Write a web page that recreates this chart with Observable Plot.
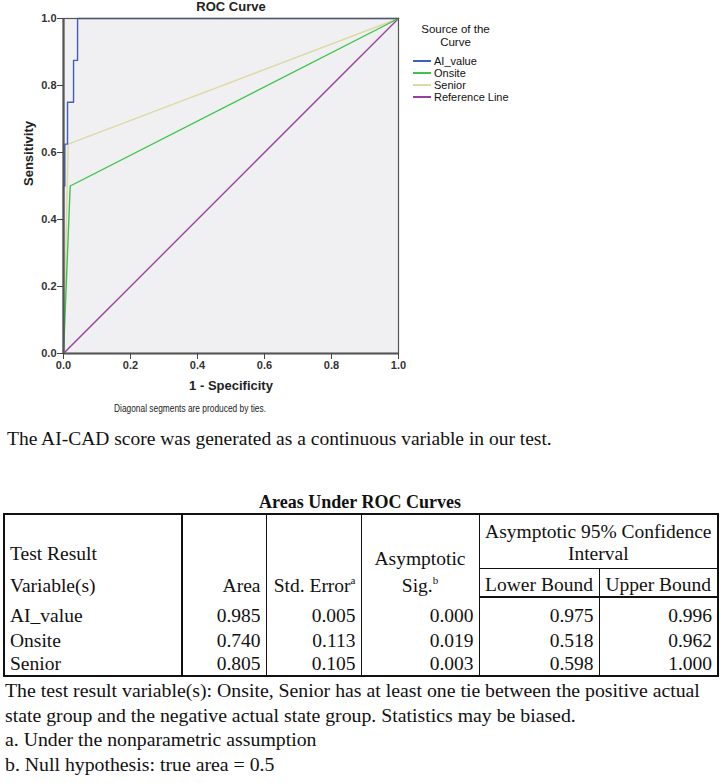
<!DOCTYPE html>
<html>
<head>
<meta charset="utf-8">
<script src="https://cdn.jsdelivr.net/npm/d3@7"></script>
<script src="https://cdn.jsdelivr.net/npm/@observablehq/plot@0.6"></script>
<style>
  body { margin:0; background:#fff; width:720px; height:783px; position:relative; overflow:hidden; }
  #chart { position:absolute; left:0; top:0; }
  .legend { position:absolute; left:408px; top:23px; font-family:"Liberation Sans", Arial, sans-serif; font-size:11px; color:#111; }
  .legend .ttl { text-align:center; width:95px; line-height:13px; font-size:11.5px; margin-bottom:6px; }
  .legend .row { display:flex; align-items:center; height:12px; }
  .legend .sw { display:inline-block; width:18px; height:2px; margin:0 3px 0 5px; }
  .serif { font-family:"Liberation Serif", "Times New Roman", serif; color:#111; }
  #para { position:absolute; left:7px; top:428px; font-size:19.5px; line-height:22px; }
  #ttitle { position:absolute; left:0; width:720px; text-align:center; top:492px; font-size:18px; line-height:21px; font-weight:bold; }
  table { position:absolute; left:3px; top:513px; border-collapse:collapse; font-size:19.5px; table-layout:fixed; border:2px solid #111; }
  td { padding:0 5px; line-height:23px; border-left:1px solid #111; vertical-align:bottom; white-space:nowrap; box-sizing:border-box; }
  td.c0 { border-right:2px solid #111; text-align:left; }
  td.r { text-align:right; }
  td.cc { text-align:center; }
  tr.h2 td { border-bottom:2px solid #111; }
  tr.h1 td.sub { border-bottom:1px solid #111; }
  sup { font-size:11px; vertical-align:8px; line-height:0; }
  #notes { position:absolute; left:5px; top:678px; font-size:19.8px; line-height:24.7px; }
</style>
</head>
<body>
<div id="chart"></div>
<div class="legend" id="legend"></div>
<div id="para" class="serif">The AI-CAD score was generated as a continuous variable in our test.</div>
<div id="ttitle" class="serif">Areas Under ROC Curves</div>
<div id="tablewrap"></div>
<div id="notes" class="serif"></div>
<script>
// ROC curve data
const aiFpr = [0, 0, 0.004, 0.004, 0.012, 0.012, 0.03, 0.03, 0.042, 0.042, 1];
const aiTpr = [0, 0.5, 0.5, 0.625, 0.625, 0.75, 0.75, 0.875, 0.875, 1, 1];
const onsiteFpr = [0, 0.02, 1];
const onsiteTpr = [0, 0.5, 1];
const seniorFpr = [0, 0.014, 1];
const seniorTpr = [0, 0.625, 1];
const refFpr = [0, 1];
const refTpr = [0, 1];
const seriesNames = ["AI_value", "Onsite", "Senior", "Reference Line"];
const seriesColors = ["#3d5fc4", "#3fc24a", "#ddd9a2", "#9a3ea2"];
const ticks = [0, 0.2, 0.4, 0.6, 0.8, 1.0];

// table data
const tableVars = ["AI_value", "Onsite", "Senior"];
const tableArea = ["0.985", "0.740", "0.805"];
const tableSE = ["0.005", "0.113", "0.105"];
const tableSig = ["0.000", "0.019", "0.003"];
const tableLower = ["0.975", "0.518", "0.598"];
const tableUpper = ["0.996", "0.962", "1.000"];
const notes = [
  "The test result variable(s): Onsite, Senior has at least one tie between the positive actual",
  "state group and the negative actual state group. Statistics may be biased.",
  "a. Under the nonparametric assumption",
  "b. Null hypothesis: true area = 0.5"
];

const mk = (fx, ty) => fx.map((x, i) => ({x, y: ty[i]}));
const series = [mk(aiFpr, aiTpr), mk(onsiteFpr, onsiteTpr), mk(seniorFpr, seniorTpr), mk(refFpr, refTpr)];
const drawOrder = [3, 2, 1, 0];

const font = "'Liberation Sans', Arial, sans-serif";
const plot = Plot.plot({
  width: 720,
  height: 420,
  marginLeft: 63,
  marginRight: 322,
  marginTop: 18,
  marginBottom: 67,
  style: { fontFamily: font, fontSize: "11px", color: "#222", background: "transparent", overflow: "visible" },
  x: { domain: [0, 1] },
  y: { domain: [0, 1] },
  marks: [
    Plot.frame({ fill: "#f0f0f2", stroke: null }),
    ...drawOrder.map(i => Plot.line(series[i], { x: "x", y: "y", stroke: seriesColors[i], strokeWidth: 1.4 })),
    Plot.frame({ stroke: "#555", strokeWidth: 1.2 }),
    Plot.ruleX([0], { stroke: "#555", strokeWidth: 2.2 }),
    Plot.ruleY([0], { stroke: "#555", strokeWidth: 2.2 }),
    Plot.axisX({ ticks, tickFormat: d3.format(".1f"), tickSize: 6, tickPadding: 2, label: null, stroke: "#444", fontWeight: "bold", fill: "#333" }),
    Plot.axisY({ ticks, tickFormat: d3.format(".1f"), tickSize: 6, tickPadding: 1, label: null, stroke: "#444", fontWeight: "bold", fill: "#333" }),
    Plot.text(["ROC Curve"], { frameAnchor: "top", lineAnchor: "middle", dy: -12, fontWeight: "bold", fontSize: 13, fill: "#222" }),
    Plot.text(["1 - Specificity"], { frameAnchor: "bottom", lineAnchor: "middle", dy: 32, fontWeight: "bold", fontSize: 13, fill: "#222" }),
    Plot.text(["Sensitivity"], { frameAnchor: "left", dx: -35, rotate: -90, fontWeight: "bold", fontSize: 13, fill: "#222" }),
    Plot.text(["Diagonal segments are produced by ties."], { frameAnchor: "bottom", lineAnchor: "middle", dy: 55, dx: -41, fontSize: 11, fill: "#222" })
  ]
});
document.getElementById("chart").appendChild(plot);
// condense the footnote text like the original's narrow font
plot.querySelectorAll("text").forEach(t => {
  if (t.textContent === "Diagonal segments are produced by ties.") {
    t.setAttribute("textLength", 152);
    t.setAttribute("lengthAdjust", "spacingAndGlyphs");
  }
});

// legend
const lg = document.getElementById("legend");
lg.innerHTML = '<div class="ttl">Source of the<br>Curve</div>' +
  seriesNames.map((n, i) => `<div class="row"><span class="sw" style="background:${seriesColors[i]}"></span><span>${n}</span></div>`).join("");

// table
let html = '<table class="serif"><colgroup>' +
  [178, 84, 95, 118, 120, 119].map(w => `<col style="width:${w}px">`).join("") + '</colgroup>';
html += '<tr class="h1"><td class="c0" rowspan="2"><div>Test Result</div><div style="margin-top:9px">Variable(s)</div></td>' +
  '<td class="r" rowspan="2">Area</td>' +
  '<td class="r" rowspan="2">Std. Error<sup>a</sup></td>' +
  '<td class="cc" rowspan="2"><div>Asymptotic</div><div style="margin-top:4px">Sig.<sup>b</sup></div></td>' +
  '<td class="cc sub" colspan="2" style="height:54px;padding-bottom:3px;line-height:22px">Asymptotic 95% Confidence<br>Interval</td></tr>';
html += '<tr class="h2"><td class="cc" style="height:29px">Lower Bound</td><td class="cc">Upper Bound</td></tr>';
const rowH = [31, 24, 22];
tableVars.forEach((v, i) => {
  const st = `height:${rowH[i]}px;padding-bottom:${i === 0 ? 1 : 0}px;`;
  html += `<tr><td class="c0" style="${st}">${v}</td>` +
    [tableArea[i], tableSE[i], tableSig[i], tableLower[i], tableUpper[i]].map(t => `<td class="r" style="${st}">${t}</td>`).join("") + '</tr>';
});
html += '</table>';
document.getElementById("tablewrap").innerHTML = html;
document.getElementById("notes").innerHTML = notes.map(n => `<div>${n}</div>`).join("");
</script>
</body>
</html>
